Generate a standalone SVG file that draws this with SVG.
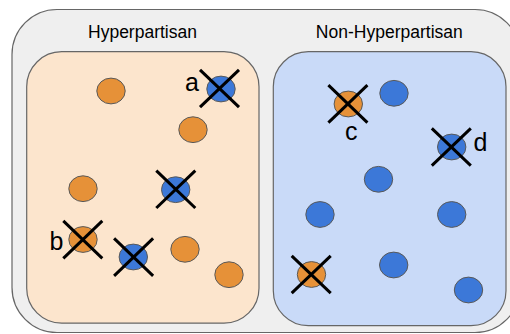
<svg xmlns="http://www.w3.org/2000/svg" width="510" height="334" viewBox="0 0 510 334">
  <style>
    .frame { fill: #efefef; stroke: #666666; stroke-width: 1.2; }
    .panel { stroke: #666666; stroke-width: 1.2; }
    .hyper { fill: #fce5cd; }
    .nonhyper { fill: #c9daf8; }
    .title { font-family: "Liberation Sans", Arial, sans-serif; font-size: 17.5px; fill: #000000; text-anchor: middle; }
    .tag { font-family: "Liberation Sans", Arial, sans-serif; font-size: 25px; fill: #000000; }
    .dot { stroke: #595959; stroke-width: 1; }
    .orange { fill: #e69138; }
    .blue { fill: #3c78d8; }
    .cross { stroke: #000000; stroke-width: 3; stroke-linecap: butt; fill: none; }
  </style>
  <defs>
    <ellipse id="dot" cx="0" cy="0" rx="14.2" ry="12.9"/>
    <g id="x-mark">
      <line class="cross" x1="-19.5" y1="-18.7" x2="19.5" y2="18.7"/>
      <line class="cross" x1="-19.5" y1="18.7" x2="19.5" y2="-18.7"/>
    </g>
  </defs>

  <!-- outer container -->
  <rect class="frame" x="12" y="9.5" width="508" height="323" rx="45" ry="45"/>

  <!-- Hyperpartisan panel -->
  <g id="hyperpartisan">
    <rect class="panel hyper" x="26.7" y="51.7" width="232.3" height="271.5" rx="35" ry="35"/>
    <text class="title" x="142.5" y="38.3">Hyperpartisan</text>
  </g>

  <!-- Non-Hyperpartisan panel -->
  <g id="non-hyperpartisan">
    <rect class="panel nonhyper" x="273.3" y="51.7" width="232.7" height="274" rx="35" ry="35"/>
    <text class="title" x="389.3" y="38.3">Non-Hyperpartisan</text>
  </g>

  <!-- points in the Hyperpartisan panel -->
  <g id="h1"><use href="#dot" class="dot orange" x="111" y="91"/></g>
  <g id="h-a">
    <use href="#dot" class="dot blue" x="221" y="89"/>
    <use href="#x-mark" x="219.5" y="88.5"/>
    <text class="tag" x="185" y="90.5">a</text>
  </g>
  <g id="h3"><use href="#dot" class="dot orange" x="193" y="129.7"/></g>
  <g id="h4"><use href="#dot" class="dot orange" x="83" y="188.7"/></g>
  <g id="h5">
    <use href="#dot" class="dot blue" x="175.7" y="189.7"/>
    <use href="#x-mark" x="175.8" y="189.3"/>
  </g>
  <g id="h-b">
    <use href="#dot" class="dot orange" x="83" y="239.5"/>
    <use href="#x-mark" x="82.8" y="239.6"/>
    <text class="tag" x="49.5" y="250">b</text>
  </g>
  <g id="h7">
    <use href="#dot" class="dot blue" x="133.3" y="257"/>
    <use href="#x-mark" x="133.6" y="257.1"/>
  </g>
  <g id="h8"><use href="#dot" class="dot orange" x="185" y="249.3"/></g>
  <g id="h9"><use href="#dot" class="dot orange" x="229" y="274.7"/></g>

  <!-- points in the Non-Hyperpartisan panel -->
  <g id="n-c">
    <use href="#dot" class="dot orange" x="348.3" y="104"/>
    <use href="#x-mark" x="347.9" y="103.9"/>
    <text class="tag" x="345" y="140">c</text>
  </g>
  <g id="n2"><use href="#dot" class="dot blue" x="394" y="93.3"/></g>
  <g id="n-d">
    <use href="#dot" class="dot blue" x="451.7" y="147"/>
    <use href="#x-mark" x="451.3" y="147"/>
    <text class="tag" x="473.5" y="150.5">d</text>
  </g>
  <g id="n4"><use href="#dot" class="dot blue" x="378.5" y="179.3"/></g>
  <g id="n5"><use href="#dot" class="dot blue" x="320" y="214.5"/></g>
  <g id="n6"><use href="#dot" class="dot blue" x="451.7" y="214.5"/></g>
  <g id="n7">
    <use href="#dot" class="dot orange" x="311.5" y="274.5"/>
    <use href="#x-mark" x="311.2" y="274.5"/>
  </g>
  <g id="n8"><use href="#dot" class="dot blue" x="393.7" y="265"/></g>
  <g id="n9"><use href="#dot" class="dot blue" x="468.5" y="290"/></g>

  <!-- no connectors in this figure -->
  <g id="connectors"/>
</svg>
